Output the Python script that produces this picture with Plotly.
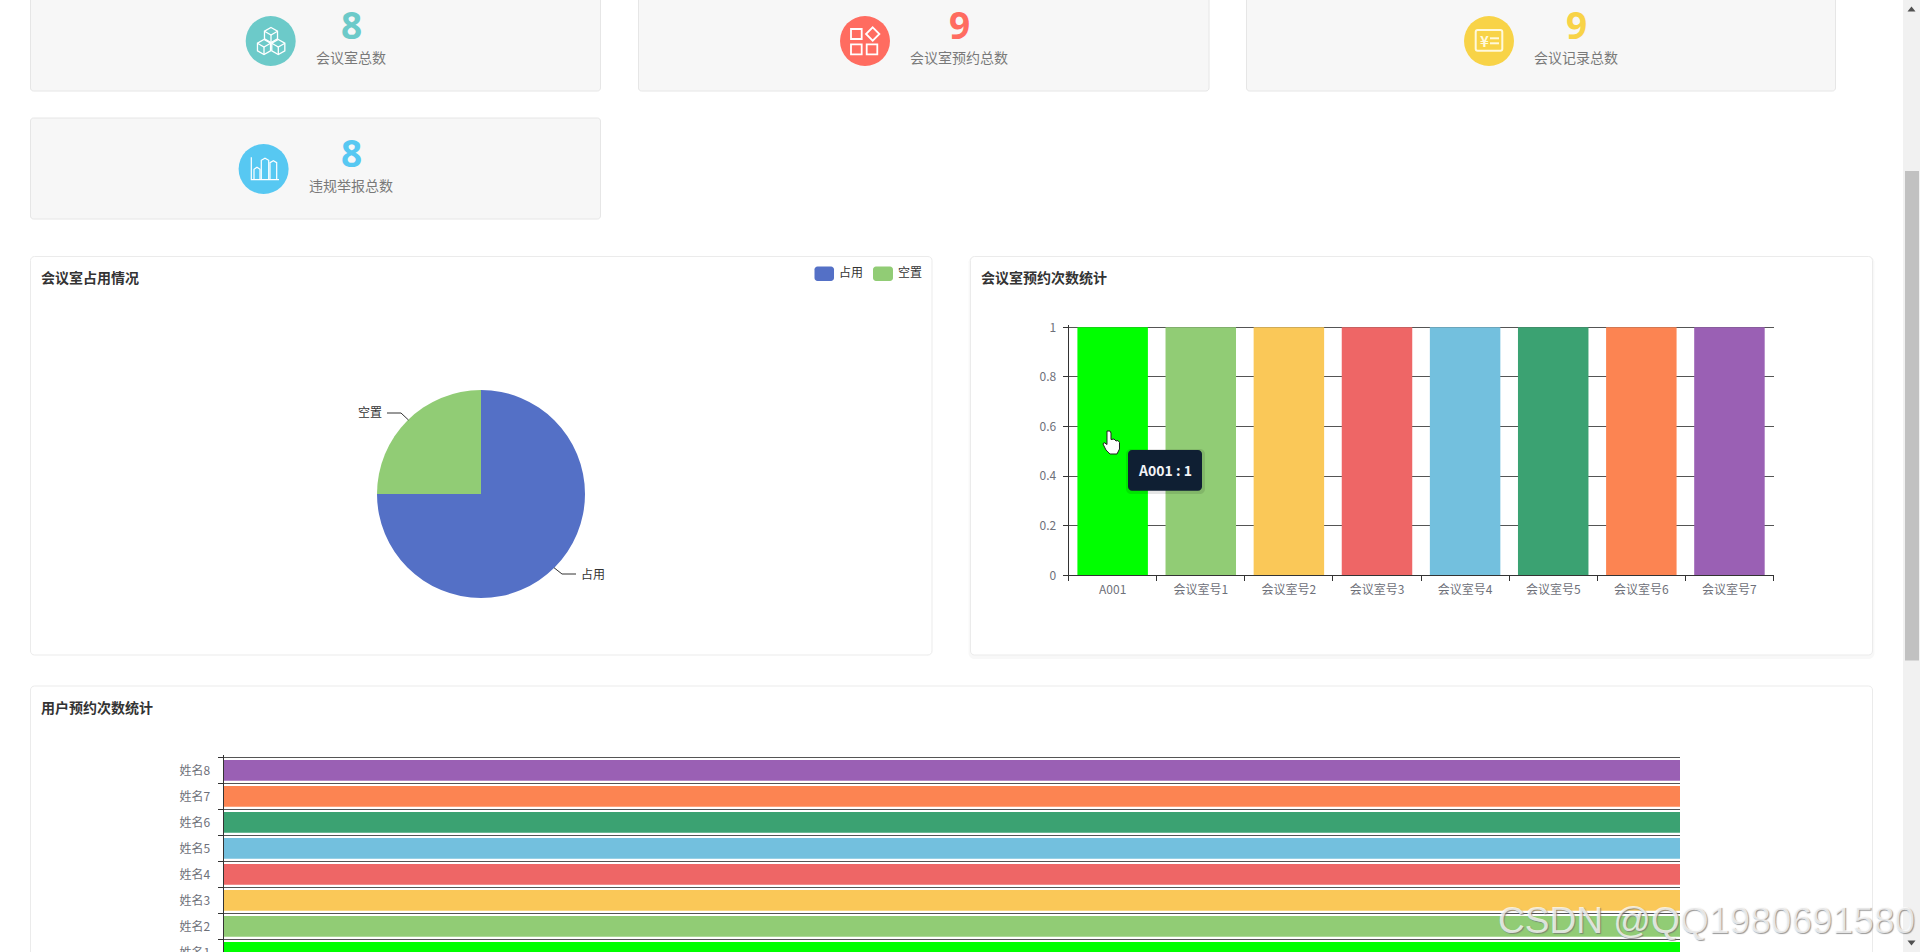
import plotly.graph_objects as go

# chart data
card_titles = ['会议室总数', '会议室预约总数', '会议记录总数', '违规举报总数']
card_totals = ['8', '9', '9', '8']
pie_labels = ['占用', '空置']
pie_values = [6, 2]
room_names = ['A001', '会议室号1', '会议室号2', '会议室号3', '会议室号4', '会议室号5', '会议室号6', '会议室号7']
room_counts = [1, 1, 1, 1, 1, 1, 1, 1]
user_names = ['姓名1', '姓名2', '姓名3', '姓名4', '姓名5', '姓名6', '姓名7', '姓名8']
user_counts = [1, 1, 1, 1, 1, 1, 1, 1]

palette = ['#00ff00', '#91cc75', '#fac858', '#ee6666', '#73c0de', '#3ba272', '#fc8452', '#9a60b4']
PIE_COLORS = ['#5470c6', '#91cc75']
CARD_COLORS = ['#6ccac9', '#ff6c60', '#f8d347', '#57c8f2']
FONT = '"Noto Sans CJK SC", "Noto Sans", sans-serif'

# the page is taller than the window, the last chart runs off the bottom like the screenshot
W, H = 1920, 1000


def px(x):
    return x / W


def py(y):
    return 1 - y / H


def poly(points, close=True):
    d = 'M ' + ' L '.join(f'{px(x):.5f} {py(y):.5f}' for x, y in points)
    return d + (' Z' if close else '')


def round_rect(x0, y0, x1, y1, r):
    k = r * 0.45
    return (f'M {px(x0 + r):.5f} {py(y0):.5f} L {px(x1 - r):.5f} {py(y0):.5f} '
            f'C {px(x1 - k):.5f} {py(y0):.5f} {px(x1):.5f} {py(y0 + k):.5f} {px(x1):.5f} {py(y0 + r):.5f} '
            f'L {px(x1):.5f} {py(y1 - r):.5f} '
            f'C {px(x1):.5f} {py(y1 - k):.5f} {px(x1 - k):.5f} {py(y1):.5f} {px(x1 - r):.5f} {py(y1):.5f} '
            f'L {px(x0 + r):.5f} {py(y1):.5f} '
            f'C {px(x0 + k):.5f} {py(y1):.5f} {px(x0):.5f} {py(y1 - k):.5f} {px(x0):.5f} {py(y1 - r):.5f} '
            f'L {px(x0):.5f} {py(y0 + r):.5f} '
            f'C {px(x0):.5f} {py(y0 + k):.5f} {px(x0 + k):.5f} {py(y0):.5f} {px(x0 + r):.5f} {py(y0):.5f} Z')


shapes = []
annotations = []


def add_path(d, fill=None, line=None, width=1, layer='above'):
    shapes.append(dict(type='path', path=d, xref='paper', yref='paper', layer=layer,
                       fillcolor=fill or 'rgba(0,0,0,0)',
                       line=dict(color=line or 'rgba(0,0,0,0)', width=width if line else 0)))


def add_rect(x0, y0, x1, y1, fill=None, line=None, width=1, layer='above'):
    shapes.append(dict(type='rect', x0=px(x0), x1=px(x1), y0=py(y0), y1=py(y1),
                       xref='paper', yref='paper', layer=layer,
                       fillcolor=fill or 'rgba(0,0,0,0)',
                       line=dict(color=line or 'rgba(0,0,0,0)', width=width if line else 0)))


def add_circle(cx, cy, r, fill):
    shapes.append(dict(type='circle', x0=px(cx - r), x1=px(cx + r), y0=py(cy + r), y1=py(cy - r),
                       xref='paper', yref='paper', layer='above', fillcolor=fill, line=dict(width=0)))


def add_text(x, y, s, size=12, color='#333', anchor='center', weight=None, family=FONT, shadow=None):
    font = dict(size=size, color=color, family=family)
    if weight:
        font['weight'] = weight
    if shadow:
        font['shadow'] = shadow
    annotations.append(dict(x=px(x), y=py(y), xref='paper', yref='paper', text=s, showarrow=False,
                            xanchor=anchor, yanchor='middle', font=font, borderpad=0))


# stat cards
card_boxes = [(30.5, -4, 600.5, 91), (638.5, -4, 1209, 91), (1246.5, -4, 1835.5, 91), (30.5, 118, 600.5, 219)]
icon_centers = [(270.7, 41), (865, 41), (1489, 41), (263.6, 169)]
text_centers = [(351, 24.5, 57), (959, 24.5, 57), (1576, 24.5, 57), (351, 152, 185)]
for i, box in enumerate(card_boxes):
    add_path(round_rect(*box, 3), fill='#f7f7f7', line='#e6e6e6', layer='below')
    add_circle(*icon_centers[i], 25, CARD_COLORS[i])
    tx, ny, ly = text_centers[i]
    add_text(tx, ny, card_totals[i], size=37, color=CARD_COLORS[i], weight=700, family='"Open Sans", sans-serif')
    add_text(tx, ly, card_titles[i], size=14, color='#797979')

# cube icon
for cx, cy in [(271, 35), (264, 47), (278.3, 47)]:
    r = 7.5
    hexagon = [(cx, cy - r), (cx + r * 0.87, cy - r / 2), (cx + r * 0.87, cy + r / 2),
               (cx, cy + r), (cx - r * 0.87, cy + r / 2), (cx - r * 0.87, cy - r / 2)]
    add_path(poly(hexagon), line='white', width=1.3)
    add_path(poly([hexagon[5], (cx, cy), hexagon[1]], close=False), line='white', width=1.3)
    add_path(poly([(cx, cy), hexagon[3]], close=False), line='white', width=1.3)

# squares icon
add_rect(851, 29, 861.7, 39, line='white', width=1.8)
add_rect(851, 44.3, 861.7, 54.3, line='white', width=1.8)
add_rect(866.7, 44.3, 877.3, 54.3, line='white', width=1.8)
add_path(poly([(872.7, 27.3), (879.4, 34), (872.7, 40.7), (866, 34)]), line='white', width=1.8)

# ledger icon
add_path(round_rect(1475.7, 30, 1502.3, 50.7, 2), line='#fff9dc', width=2)
add_text(1484, 40.5, '¥', size=15, color='#fff9dc', weight=700)
add_path(poly([(1490, 38.3), (1499, 38.3)], close=False), line='#fff9dc', width=2)
add_path(poly([(1490, 43.3), (1499, 43.3)], close=False), line='#fff9dc', width=2)

# bars icon
add_path(poly([(251.3, 157.3), (251.3, 179.7), (279, 179.7)], close=False), line='white', width=1.2)
for x0, x1, top in [(254, 260, 167.3), (261.3, 268.7, 158.3), (270, 276.7, 160.7)]:
    add_path(poly([(x0, 179.7), (x0, top + 2), ((x0 + x1) / 2, top), (x1, top + 2), (x1, 179.7)], close=False),
             line='white', width=1.2)

# chart panels
add_path(round_rect(30.5, 256.5, 932, 655, 4), fill='white', line='#ebebeb', layer='below')
add_path(round_rect(968.5, 256.5, 1874.5, 659, 6), fill='#f8f8f8', layer='below')
add_path(round_rect(970.5, 256.5, 1872.5, 655, 4), fill='white', line='#ebebeb', layer='below')
add_path(round_rect(30.5, 686, 1872.5, 1100, 4), fill='white', line='#ebebeb', layer='below')
add_text(40, 277, '会议室占用情况', size=14, color='#333', anchor='left', weight=700)
add_text(980, 277, '会议室预约次数统计', size=14, color='#333', anchor='left', weight=700)
add_text(40, 707, '用户预约次数统计', size=14, color='#333', anchor='left', weight=700)

# pie legend
add_path(round_rect(814.5, 266.5, 834, 281, 3), fill=PIE_COLORS[0])
add_path(round_rect(873, 266.5, 893, 281, 3), fill=PIE_COLORS[1])
add_text(838, 271.7, pie_labels[0], size=12, color='#333', anchor='left')
add_text(897, 271.7, pie_labels[1], size=12, color='#333', anchor='left')

# pie labels with their leader lines
add_path(poly([(554, 567.7), (562, 574), (576, 574)], close=False), line='#333', width=1)
add_path(poly([(387, 413), (401, 413), (408.5, 420)], close=False), line='#333', width=1)
add_text(580, 573, pie_labels[0], size=12, color='#333', anchor='left')
add_text(383, 411.5, pie_labels[1], size=12, color='#333', anchor='right')

# tooltip over the first bar
add_path(round_rect(1126, 449, 1205, 494, 5), fill='rgba(0,0,0,0.10)')
add_path(round_rect(1128, 450, 1202, 490.7, 4), fill='#0f1f33')
add_text(1164.5, 470, f'{room_names[0]} : {room_counts[0]}', size=14, color='#f2f4f7', weight=700)

# hand cursor
add_path(poly([(1107, 431), (1110, 431), (1111, 433), (1111, 439.5), (1114, 439), (1116, 441), (1118, 440.5),
               (1119.5, 442.5), (1119.5, 449), (1117, 454), (1110, 454), (1106, 450), (1103, 444),
               (1104, 442.5), (1107, 444.5)]), fill='white', line='#222', width=1)

# browser scrollbar
add_rect(1903, 0, 1920, 952, fill='#f1f1f1')
add_rect(1905, 171, 1919, 660.5, fill='#c1c1c1')
add_path(poly([(1907.5, 11.5), (1915.5, 11.5), (1911.5, 6.5)]), fill='#505050')
add_path(poly([(1907.5, 940.5), (1915.5, 940.5), (1911.5, 945.5)]), fill='#505050')

add_text(1497, 920, 'CSDN @QQ1980691580', size=37.1, color='rgba(255,255,255,0.75)', anchor='left',
         family='"Liberation Sans", sans-serif', shadow='1px 1px 1px rgba(110,110,110,0.95)')

fig = go.Figure()

fig.add_trace(go.Pie(
    labels=pie_labels, values=pie_values, sort=False, direction='clockwise', rotation=0,
    marker=dict(colors=PIE_COLORS), textinfo='none', showlegend=False,
    domain=dict(x=[px(481 - 104), px(481 + 104)], y=[py(494 + 104), py(494 - 104)]),
))
fig.add_trace(go.Bar(x=room_names, y=room_counts, marker=dict(color=palette, line=dict(width=0)),
                     xaxis='x', yaxis='y', showlegend=False))
fig.add_trace(go.Bar(x=user_counts, y=user_names, orientation='h', marker=dict(color=palette, line=dict(width=0)),
                     xaxis='x2', yaxis='y2', showlegend=False))

AXIS_LINE = '#333'
GRID = '#555'
TICK_FONT = dict(size=12, color='#6e7079', family=FONT)

fig.update_layout(
    template='none',
    width=W, height=H, margin=dict(l=0, r=0, t=0, b=0, autoexpand=False),
    paper_bgcolor='white', plot_bgcolor='rgba(0,0,0,0)',
    font=dict(family=FONT), bargap=0.2, showlegend=False,
    shapes=shapes, annotations=annotations,
    xaxis=dict(domain=[px(1068.6), px(1773.5)], anchor='y', type='category', tickson='boundaries',
               ticks='outside', ticklen=5, tickcolor=AXIS_LINE, showline=True, linecolor=AXIS_LINE,
               showgrid=False, tickfont=TICK_FONT, ticklabelstandoff=3, automargin=False),
    # a bit over 1 so the gridline at the top of the bars still gets drawn
    yaxis=dict(domain=[py(575.3), py(324.82)], anchor='x', range=[0, 1.01], tickvals=[0, 0.2, 0.4, 0.6, 0.8, 1],
               ticks='outside', ticklen=5, tickcolor=AXIS_LINE, showline=True, linecolor=AXIS_LINE,
               showgrid=True, gridcolor=GRID, gridwidth=1, zeroline=False, tickfont=TICK_FONT,
               ticklabelstandoff=4, automargin=False),
    # value labels of this axis fall below the window, the screenshot never shows them
    xaxis2=dict(domain=[px(223.5), px(1680)], anchor='y2', range=[0, 1], dtick=0.2,
                ticks='', showticklabels=False, showline=True, linecolor=AXIS_LINE,
                showgrid=False, zeroline=False, automargin=False),
    yaxis2=dict(domain=[py(965.3), py(754.7)], anchor='x2', type='category', tickson='boundaries',
                range=[-0.5, 7.6], ticks='outside', ticklen=5, tickcolor=AXIS_LINE, showline=True,
                linecolor=AXIS_LINE, showgrid=True, gridcolor=GRID, gridwidth=1, tickfont=TICK_FONT,
                ticklabelstandoff=10, automargin=False),
)

fig.write_html("out.html", config=dict(displayModeBar=False), post_script=(
    "document.documentElement.style.overflow='hidden';"
    "document.body.style.margin='0';document.body.style.overflow='hidden';"
))
